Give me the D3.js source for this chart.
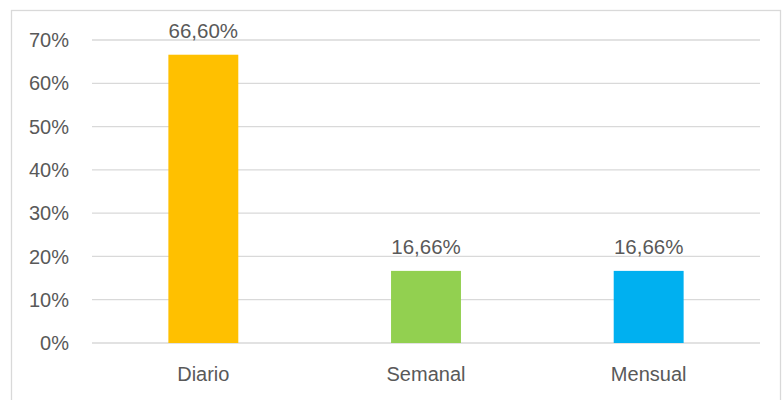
<!DOCTYPE html>
<html>
<head>
<meta charset="utf-8">
<script src="https://d3js.org/d3.v7.min.js"></script>
<style>
  body { margin: 0; background: #fff; }
  text { font-family: "Liberation Sans", Arial, sans-serif; fill: #595959; }
</style>
</head>
<body>
<svg id="chart" width="782" height="400"></svg>
<script>
// data
var categories = ["Diario", "Semanal", "Mensual"];
var values = [66.60, 16.66, 16.66];
var labels = ["66,60%", "16,66%", "16,66%"];
var barColors = ["#FFC000", "#92D050", "#00B0F0"];
var yTicks = [0, 10, 20, 30, 40, 50, 60, 70];

var svg = d3.select("#chart");

// chart frame
svg.append("rect")
  .attr("x", 11.5).attr("y", 10.5)
  .attr("width", 769).attr("height", 400)
  .attr("fill", "none")
  .attr("stroke", "#d9d9d9")
  .attr("stroke-width", 1.3);

var plotLeft = 92, plotRight = 760, plotTop = 40, plotBottom = 343;

var x = d3.scaleBand()
  .domain(categories)
  .range([plotLeft, plotRight])
  .padding(0);

var y = d3.scaleLinear()
  .domain([0, 70])
  .range([plotBottom, plotTop]);

var barW = x.bandwidth() * 0.314;

// gridlines
svg.append("g").selectAll("line")
  .data(yTicks)
  .enter()
  .append("line")
  .attr("x1", plotLeft).attr("x2", plotRight)
  .attr("y1", function(d){ return y(d); })
  .attr("y2", function(d){ return y(d); })
  .attr("stroke", "#d9d9d9")
  .attr("stroke-width", 1.3);

// y axis labels
svg.append("g").selectAll("text")
  .data(yTicks)
  .enter()
  .append("text")
  .attr("x", 69)
  .attr("y", function(d){ return y(d); })
  .attr("dy", "0.36em")
  .attr("text-anchor", "end")
  .style("font-size", "20px")
  .text(function(d){ return d + "%"; });

// bars
svg.append("g").selectAll("rect")
  .data(values)
  .enter()
  .append("rect")
  .attr("x", function(d, i){ return x(categories[i]) + x.bandwidth()/2 - barW/2; })
  .attr("y", function(d){ return y(d); })
  .attr("width", barW)
  .attr("height", function(d){ return y(0) - y(d); })
  .attr("fill", function(d, i){ return barColors[i]; });

// value labels
svg.append("g").selectAll("text")
  .data(values)
  .enter()
  .append("text")
  .attr("x", function(d, i){ return x(categories[i]) + x.bandwidth()/2; })
  .attr("y", function(d){ return y(d) - 17; })
  .attr("text-anchor", "middle")
  .style("font-size", "20.5px")
  .text(function(d, i){ return labels[i]; });

// category labels
svg.append("g").selectAll("text")
  .data(categories)
  .enter()
  .append("text")
  .attr("x", function(d){ return x(d) + x.bandwidth()/2; })
  .attr("y", 381)
  .attr("text-anchor", "middle")
  .style("font-size", "20px")
  .text(function(d){ return d; });
</script>
</body>
</html>
